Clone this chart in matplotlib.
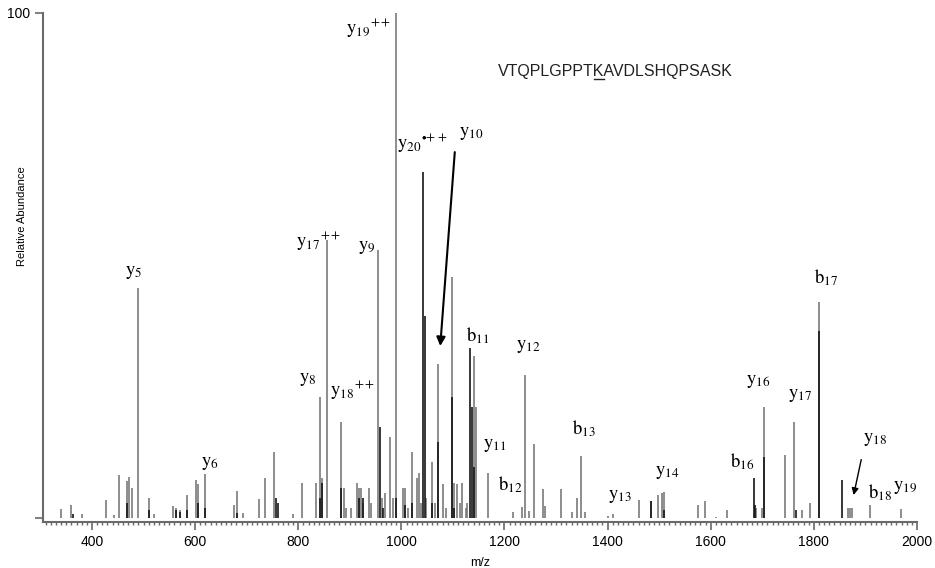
"""MS/MS spectrum of VTQPLGPPTKAVDLSHQPSASK with annotated b/y ions."""
import matplotlib
matplotlib.use("Agg")
import matplotlib.pyplot as plt
from matplotlib.ticker import MultipleLocator
from matplotlib.lines import Line2D

plt.rcParams["mathtext.fontset"] = "stix"
plt.rcParams["font.family"] = ["Liberation Sans", "DejaVu Sans"]

# ---------------------------------------------------------------------------
# Peak list (m/z, relative abundance)
# ---------------------------------------------------------------------------
grey_mz = [340, 359, 381, 427, 443, 452, 468, 472, 477, 490, 511, 520, 557, 563,
           571, 584, 602, 606, 619, 675, 681, 693, 724, 736, 753, 790, 807, 834,
           842, 846, 855, 883, 888, 893, 902, 914, 918, 922, 926, 937, 942, 955,
           962, 968, 978, 984, 989, 1003, 1008, 1013, 1021, 1030, 1034, 1039,
           1048, 1059, 1066, 1071, 1081, 1087, 1098, 1103, 1108, 1113, 1118, 1125,
           1128, 1141, 1145, 1168, 1217, 1234, 1240, 1247, 1257, 1275, 1279, 1310,
           1331, 1341, 1348, 1356, 1400, 1411, 1461, 1484, 1498, 1506, 1510, 1575,
           1589, 1610, 1632, 1688, 1700, 1703, 1744, 1761, 1777, 1792, 1810, 1866,
           1870, 1874, 1909, 1969]
grey_int = [1.8, 2.6, 0.8, 3.6, 0.5, 8.5, 7.3, 8.1, 6.0, 45.5, 4.0, 0.8, 2.4, 2.0,
            1.5, 4.6, 7.5, 6.8, 8.7, 2.6, 5.3, 1.0, 3.8, 8.0, 13.0, 0.8, 7.0, 7.0,
            24.0, 8.0, 55.0, 19.0, 6.0, 2.0, 2.0, 7.0, 6.0, 6.0, 3.0, 6.0, 3.0, 53.0,
            4.0, 5.0, 16.0, 4.0, 100.0, 6.0, 6.0, 2.0, 13.0, 8.0, 9.0, 3.0,
            4.0, 11.0, 3.0, 30.5, 6.7, 2.0, 47.7, 7.0, 6.7, 3.0, 7.0, 2.0,
            3.0, 32.0, 22.0, 9.0, 1.2, 2.2, 28.3, 1.4, 14.7, 5.7, 2.4, 5.7,
            1.2, 4.0, 12.3, 1.2, 0.4, 0.8, 3.6, 3.4, 4.6, 5.0, 5.2, 2.6,
            3.4, 0.2, 1.6, 2.0, 2.0, 22.0, 12.5, 19.0, 1.5, 3.0, 42.8, 2.0,
            2.0, 2.0, 2.6, 1.8]

dark_mz = [363, 468, 511, 563, 571, 584, 606, 619, 681, 757, 760, 842, 846, 883,
           918, 926, 958, 965, 989, 1008, 1021, 1042, 1045, 1059, 1071, 1098, 1103,
           1133, 1137, 1141, 1484, 1510, 1684, 1686, 1703, 1765, 1810, 1855]
dark_int = [0.8, 3.0, 1.5, 1.5, 1.2, 1.5, 3.0, 2.0, 1.0, 4.0, 3.0, 4.0, 7.0, 6.0,
            4.0, 4.0, 18.0, 2.0, 4.0, 2.5, 3.0, 68.5, 40.0, 3.0, 15.0, 24.0, 2.0,
            33.6, 22.0, 10.0, 3.4, 1.5, 8.0, 2.5, 12.0, 1.5, 37.0, 7.5]

peptide_pre, peptide_site, peptide_post = "VTQPLGPPT", "K", "AVDLSHQPSASK"

# ion labels: (text, x, y) in data coordinates
ion_labels = [
    (r"$\mathrm{y}_{5}$", 480, 48.7),
    (r"$\mathrm{y}_{6}$", 629, 10.7),
    (r"$\mathrm{y}_{8}$", 819, 27.5),
    (r"$\mathrm{y}_{18}{}^{++}$", 906, 25.3),
    (r"$\mathrm{y}_{17}{}^{++}$", 840, 54.8),
    (r"$\mathrm{y}_{9}$", 933, 53.5),
    (r"$\mathrm{y}_{19}{}^{++}$", 937, 96.9),
    (r"$\mathrm{y}_{20}{}^{\bullet\!+\!+}$", 1040, 74.3),
    (r"$\mathrm{y}_{10}$", 1135, 76.2),
    (r"$\mathrm{b}_{11}$", 1149, 36.2),
    (r"$\mathrm{y}_{12}$", 1246, 33.9),
    (r"$\mathrm{y}_{11}$", 1182, 14.3),
    (r"$\mathrm{b}_{12}$", 1211, 6.5),
    (r"$\mathrm{b}_{13}$", 1354, 17.6),
    (r"$\mathrm{y}_{13}$", 1424, 4.2),
    (r"$\mathrm{y}_{14}$", 1515, 9.1),
    (r"$\mathrm{b}_{16}$", 1661, 11.1),
    (r"$\mathrm{y}_{16}$", 1692, 27.1),
    (r"$\mathrm{y}_{17}$", 1773, 24.2),
    (r"$\mathrm{b}_{17}$", 1824, 47.5),
    (r"$\mathrm{y}_{18}$", 1919, 15.6),
    (r"$\mathrm{b}_{18}$", 1929, 5.1),
    (r"$\mathrm{y}_{19}$", 1977, 6.1),
]

# ---------------------------------------------------------------------------
fig = plt.figure(figsize=(9.35, 5.68), dpi=100)
ax = fig.add_axes([43 / 935, 46 / 568, 874 / 935, 509 / 568])

ax.vlines(grey_mz, 0, grey_int, color="#7a7a7a", lw=1.2)
ax.vlines(dark_mz, 0, dark_int, color="#151515", lw=1.2)

ax.set_xlim(305, 2000)
ax.set_ylim(-0.8, 100)

for side in ("top", "right"):
    ax.spines[side].set_visible(False)
for side in ("left", "bottom"):
    ax.spines[side].set_color("#6a6a6a")
    ax.spines[side].set_linewidth(1.5)

ax.xaxis.set_major_locator(MultipleLocator(200))
ax.xaxis.set_minor_locator(MultipleLocator(10))
ax.set_yticks([0, 100])
ax.set_yticklabels(["", "100"])
ax.tick_params(axis="both", which="major", length=6, width=1.2, color="#6a6a6a",
               labelsize=10, pad=3)
ax.tick_params(axis="x", which="minor", length=2.5, width=1.0, color="#6a6a6a")

ax.set_xlabel("m/z", fontsize=9, labelpad=6)
ax.set_ylabel("Relative Abundance", fontsize=8)
ax.yaxis.set_label_coords(-0.018, 0.60)

for txt, x, y in ion_labels:
    ax.text(x, y, txt, ha="center", va="center", fontsize=13.5)

arrow = dict(arrowstyle="-|>", color="black", lw=1.5, mutation_scale=13)
ax.annotate("", xy=(1075, 33.5), xytext=(1104, 73.0), arrowprops=arrow)
ax.annotate("", xy=(1876, 4.0), xytext=(1893, 12.1),
            arrowprops=dict(arrowstyle="-|>", color="black", lw=1.0, mutation_scale=10))

# peptide sequence with the modified residue underlined
seq_kw = dict(fontsize=11.5, color="#222222", va="baseline", ha="left")
x0, y0 = 498 / 935, 1 - 76 / 568
fig.text(x0, y0, peptide_pre + peptide_site + peptide_post, **seq_kw)
fig.canvas.draw()
r = fig.canvas.get_renderer()
w_pre = fig.text(x0, y0, peptide_pre, alpha=0, **seq_kw)
w_site = fig.text(x0, y0, peptide_pre + peptide_site, alpha=0, **seq_kw)
b1 = w_pre.get_window_extent(r)
b2 = w_site.get_window_extent(r)
W, H = fig.bbox.width, fig.bbox.height
uy = y0 - 2.5 / H
fig.add_artist(Line2D([b1.x1 / W, b2.x1 / W], [uy, uy], color="#222222", lw=1.0))

fig.savefig("out.png", dpi=100)
